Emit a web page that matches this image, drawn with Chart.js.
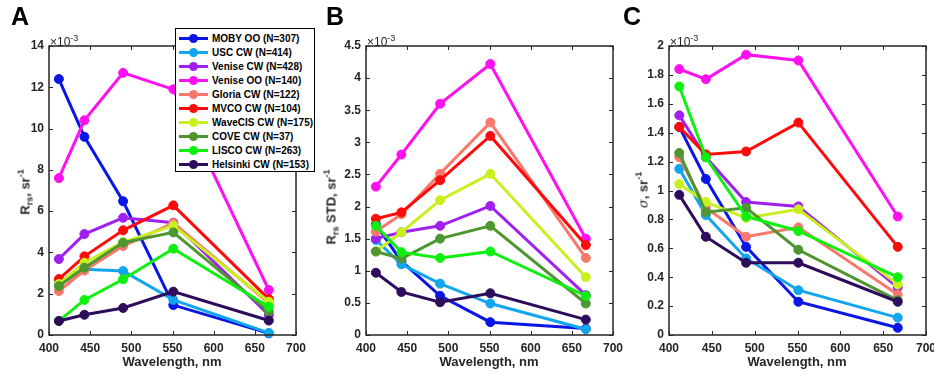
<!DOCTYPE html>
<html>
<head>
<meta charset="utf-8">
<script src="https://cdn.jsdelivr.net/npm/chart.js@4.4.1/dist/chart.umd.min.js"></script>
<style>
  body { margin: 0; background: #fff; font-family: "Liberation Sans", Arial, sans-serif; }
  #fig { position: relative; width: 934px; height: 377px; overflow: hidden; }
  .panel { position: absolute; top: 0; }
  .letter { position: absolute; font-weight: bold; font-size: 25px; color: #000; }
  .ytitle { position: absolute; font-weight: bold; font-size: 13px; color: #262626; white-space: nowrap;
            transform: translate(-50%, -50%) rotate(-90deg); }
  .ytitle sub { font-size: 9px; vertical-align: -3px; }
  .ytitle sup { font-size: 9px; vertical-align: 6px; }
  .xtitle { position: absolute; font-weight: bold; font-size: 13px; color: #262626; white-space: nowrap;
            transform: translateX(-50%); top: 354px; }
  .exp { position: absolute; top: 33px; font-size: 12px; color: #262626; }
  .exp sup { font-size: 9px; vertical-align: 5px; }
  #legend { position: absolute; left: 175px; top: 28px; width: 138px; height: 142px;
            border: 1.5px solid #000; background: #fff; }
  .row { position: absolute; left: 0; height: 14px; width: 138px; }
  .sample { position: absolute; left: 3px; top: 6px; width: 29px; height: 3px; }
  .dot { position: absolute; left: 10px; top: -3.5px; width: 9px; height: 9px; border-radius: 50%; }
  .lab { position: absolute; left: 36px; top: 0; font-size: 10px; font-weight: bold; line-height: 15px; color: #000; white-space: nowrap; }
</style>
</head>
<body>
<div id="fig">
  <div class="panel" style="left:0px"><canvas id="chartA" width="320" height="377"></canvas></div>
  <div class="panel" style="left:300px"><canvas id="chartB" width="330" height="377"></canvas></div>
  <div class="panel" style="left:620px"><canvas id="chartC" width="314" height="377"></canvas></div>

  <div class="letter" style="left:11px; top:2px">A</div>
  <div class="letter" style="left:326px; top:2px">B</div>
  <div class="letter" style="left:623px; top:2px">C</div>

  <div class="exp" style="left:50px">&times;10<sup>-3</sup></div>
  <div class="exp" style="left:367px">&times;10<sup>-3</sup></div>
  <div class="exp" style="left:670px">&times;10<sup>-3</sup></div>

  <div class="ytitle" style="left:25px; top:192px">R<sub>rs</sub>, sr<sup>-1</sup></div>
  <div class="ytitle" style="left:331px; top:207px">R<sub>rs</sub> STD, sr<sup>-1</sup></div>
  <div class="ytitle" style="left:642px; top:190px"><i style="font-family:'DejaVu Serif',serif;font-weight:normal">&sigma;</i>, sr<sup>-1</sup></div>

  <div class="xtitle" style="left:172px">Wavelength, nm</div>
  <div class="xtitle" style="left:489px">Wavelength, nm</div>
  <div class="xtitle" style="left:797px">Wavelength, nm</div>

  <div id="legend"></div>
</div>

<script>
const wavelengths = [412, 443, 490, 551, 667];

const seriesNames = [
  'MOBY OO (N=307)', 'USC CW (N=414)', 'Venise CW (N=428)', 'Venise OO (N=140)',
  'Gloria CW (N=122)', 'MVCO CW (N=104)', 'WaveCIS CW (N=175)', 'COVE CW (N=37)',
  'LISCO CW (N=263)', 'Helsinki CW (N=153)'
];

const seriesColors = [
  '#0a16e6', '#12a6ee', '#a020f0', '#ff10f0', '#f8786c',
  '#ff0a0a', '#c8f020', '#4e9630', '#10f010', '#2e0c5c'
];

// panel A: mean Rrs (x10^-3 sr^-1)
const rrsMean = [
  [12.4, 9.6, 6.48, 1.45, 0.08],
  [2.6, 3.18, 3.1, 1.7, 0.1],
  [3.68, 4.89, 5.68, 5.44, 0.97],
  [7.6, 10.4, 12.7, 11.9, 2.18],
  [2.13, 3.12, 4.31, 5.42, 1.55],
  [2.71, 3.81, 5.07, 6.28, 1.74],
  [2.47, 3.5, 4.5, 5.3, 1.61],
  [2.37, 3.26, 4.47, 4.97, 1.13],
  [0.68, 1.7, 2.7, 4.18, 1.37],
  [0.68, 0.98, 1.31, 2.1, 0.7]
];

// panel B: Rrs STD (x10^-3 sr^-1)
const rrsStd = [
  [1.72, 1.15, 0.61, 0.2, 0.1],
  [1.48, 1.1, 0.8, 0.49, 0.09],
  [1.5, 1.6, 1.7, 2.01, 0.62],
  [2.31, 2.81, 3.6, 4.22, 1.5],
  [1.61, 1.88, 2.51, 3.31, 1.2],
  [1.81, 1.91, 2.41, 3.1, 1.4],
  [1.3, 1.6, 2.1, 2.51, 0.9],
  [1.3, 1.19, 1.5, 1.7, 0.49],
  [1.7, 1.29, 1.2, 1.3, 0.61],
  [0.97, 0.67, 0.51, 0.65, 0.24]
];

// panel C: sigma (x10^-3 sr^-1)
const rrsSigma = [
  [1.44, 1.08, 0.61, 0.23, 0.05],
  [1.15, 0.83, 0.53, 0.31, 0.12],
  [1.52, 1.23, 0.92, 0.89, 0.33],
  [1.84, 1.77, 1.94, 1.9, 0.82],
  [1.23, 0.88, 0.68, 0.745, 0.28],
  [1.44, 1.25, 1.27, 1.47, 0.61],
  [1.045, 0.92, 0.81, 0.87, 0.35],
  [1.26, 0.85, 0.88, 0.59, 0.24],
  [1.72, 1.23, 0.82, 0.72, 0.4],
  [0.97, 0.68, 0.5, 0.5, 0.23]
];

const AXIS_COLOR = '#262626';
const TICK_FONT = { family: '"Liberation Sans", Arial, sans-serif', size: 12, weight: 'bold' };

// MATLAB-style box with inward ticks on all four sides
const boxFrame = {
  id: 'boxFrame',
  afterDraw(chart) {
    const { ctx, chartArea: a, scales } = chart;
    const len = 4;
    ctx.save();
    ctx.strokeStyle = AXIS_COLOR;
    ctx.lineWidth = 1.5;
    ctx.strokeRect(a.left, a.top, a.right - a.left, a.bottom - a.top);
    ctx.lineWidth = 1;
    ctx.beginPath();
    scales.x.ticks.forEach(t => {
      const px = Math.round(scales.x.getPixelForValue(t.value)) + 0.5;
      ctx.moveTo(px, a.bottom); ctx.lineTo(px, a.bottom - len);
      ctx.moveTo(px, a.top); ctx.lineTo(px, a.top + len);
    });
    scales.y.ticks.forEach(t => {
      const py = Math.round(scales.y.getPixelForValue(t.value)) + 0.5;
      ctx.moveTo(a.left, py); ctx.lineTo(a.left + len, py);
      ctx.moveTo(a.right, py); ctx.lineTo(a.right - len, py);
    });
    ctx.stroke();
    ctx.restore();
  }
};

function fmt(v) {
  return String(+v.toFixed(2));
}

function makePanel(id, values, yMax, yStep, yWidth, rightPad) {
  new Chart(document.getElementById(id), {
    type: 'line',
    data: {
      datasets: values.map((row, i) => ({
        label: seriesNames[i],
        data: row.map((v, j) => ({ x: wavelengths[j], y: v })),
        borderColor: seriesColors[i],
        backgroundColor: seriesColors[i],
        pointBackgroundColor: seriesColors[i],
        pointBorderColor: seriesColors[i],
        borderWidth: 3,
        pointRadius: 4.5,
        pointBorderWidth: 1,
        tension: 0,
        clip: false,
        order: values.length - i,
      })),
    },
    options: {
      responsive: false,
      animation: false,
      events: [],
      layout: { padding: { top: 46, right: rightPad, left: 0, bottom: 0 } },
      plugins: { legend: { display: false }, tooltip: { enabled: false } },
      scales: {
        x: {
          type: 'linear', min: 400, max: 700,
          grid: { display: false, drawTicks: false }, border: { display: false },
          ticks: { stepSize: 50, color: AXIS_COLOR, font: TICK_FONT, padding: 6, maxRotation: 0 },
          afterFit: s => { s.height = 42; s.paddingLeft = 0; s.paddingRight = 0; },
        },
        y: {
          min: 0, max: yMax,
          grid: { display: false, drawTicks: false }, border: { display: false },
          ticks: { stepSize: yStep, color: AXIS_COLOR, font: TICK_FONT, padding: 5, callback: fmt },
          afterFit: s => { s.width = yWidth; s.paddingTop = 0; s.paddingBottom = 0; },
        },
      },
    },
    plugins: [boxFrame],
  });
}

makePanel('chartA', rrsMean, 14, 2, 49, 24);
makePanel('chartB', rrsStd, 4.5, 0.5, 66, 17);
makePanel('chartC', rrsSigma, 2, 0.2, 49, 8);

// legend built from the series lists
const legendEl = document.getElementById('legend');
legendEl.innerHTML = seriesNames.map((name, i) => `
  <div class="row" style="top:${2 + i * 14}px">
    <div class="sample" style="background:${seriesColors[i]}"><div class="dot" style="background:${seriesColors[i]}"></div></div>
    <div class="lab">${name}</div>
  </div>
`).join('');
</script>
</body>
</html>
